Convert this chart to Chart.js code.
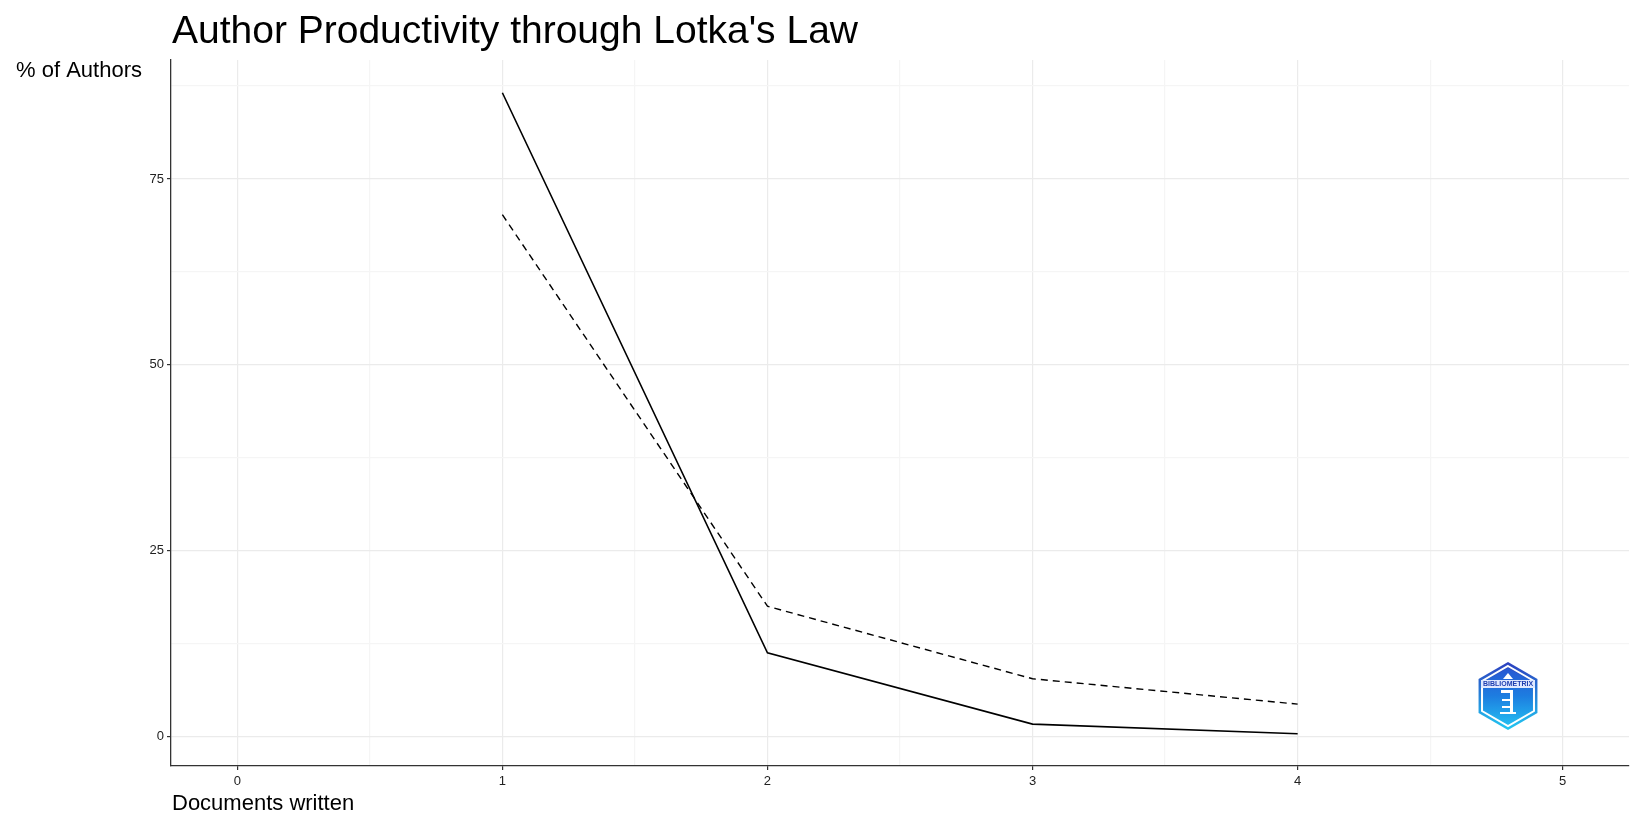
<!DOCTYPE html>
<html>
<head>
<meta charset="utf-8">
<script src="https://cdn.jsdelivr.net/npm/chart.js@4/dist/chart.umd.min.js"></script>
<style>
html,body{margin:0;padding:0;background:#fff;}
#wrap{position:relative;width:1648px;height:827px;}
</style>
</head>
<body>
<div id="wrap"><canvas id="c" width="1648" height="827"></canvas></div>
<script>
const chartTitle = "Author Productivity through Lotka's Law";
const yAxisTitle = "% of Authors";
const xAxisTitle = "Documents written";
const logoText = "BIBLIOMETRIX";

const documentsWritten = [1, 2, 3, 4];
const observedPct = [86.6, 11.3, 1.7, 0.4];
const lotkaPct = [70.2, 17.55, 7.8, 4.39];

const xTicks = [0, 1, 2, 3, 4, 5];
const xMinorTicks = [0.5, 1.5, 2.5, 3.5, 4.5];
const yTicks = [0, 25, 50, 75];
const yMinorTicks = [12.5, 37.5, 62.5, 87.5];
const xRange = [-0.25, 5.25];
const yRange = [-3.93, 91.0];

const FONT = '"Liberation Sans", Arial, Helvetica, sans-serif';

function setTicks(major, minor) {
  return function (scale) {
    const all = major.concat(minor).sort((a, b) => a - b);
    scale.ticks = all.map(v => ({ value: v }));
  };
}
function isMinor(list, ctx) {
  return ctx.tick && list.includes(ctx.tick.value);
}

const textPlugin = {
  id: 'texts',
  afterDraw(chart) {
    const ctx = chart.ctx;
    ctx.save();
    ctx.fillStyle = '#000';
    ctx.textBaseline = 'alphabetic';
    ctx.textAlign = 'left';
    ctx.font = '39px ' + FONT;
    ctx.fillText(chartTitle, 172, 43);
    ctx.font = '22px ' + FONT;
    ctx.fillText(yAxisTitle, 16, 77);
    ctx.fillText(xAxisTitle, 172, 810);

    // logo (hexagon badge)
    const cx = 1508, cy = 696, r = 34;
    const hex = (rad) => {
      ctx.beginPath();
      for (let i = 0; i < 6; i++) {
        const a = Math.PI / 180 * (60 * i - 90);
        const px = cx + rad * Math.cos(a), py = cy + rad * Math.sin(a);
        if (i === 0) ctx.moveTo(px, py); else ctx.lineTo(px, py);
      }
      ctx.closePath();
    };
    let g = ctx.createLinearGradient(0, cy - r, 0, cy + r);
    g.addColorStop(0, '#2c3fbf');
    g.addColorStop(1, '#21c8f2');
    hex(r); ctx.fillStyle = g; ctx.fill();
    hex(r - 4); ctx.strokeStyle = '#ffffff'; ctx.lineWidth = 2; ctx.stroke();
    g = ctx.createLinearGradient(0, cy - r, 0, cy + r);
    g.addColorStop(0, '#2a4fcf');
    g.addColorStop(0.5, '#1d7de0');
    g.addColorStop(1, '#25c6f4');
    hex(r - 6); ctx.fillStyle = g; ctx.fill();
    // banner
    ctx.fillStyle = '#dfe9ff';
    ctx.fillRect(cx - 27, cy - 16, 54, 8);
    ctx.fillStyle = '#1f3fb0';
    ctx.font = 'bold 7px ' + FONT;
    ctx.textAlign = 'center';
    ctx.textBaseline = 'middle';
    ctx.fillText(logoText, cx, cy - 12);
    // white figure
    ctx.fillStyle = '#ffffff';
    ctx.beginPath();
    ctx.moveTo(cx - 5, cy - 17); ctx.lineTo(cx, cy - 23); ctx.lineTo(cx + 5, cy - 17); ctx.closePath(); ctx.fill();
    ctx.fillRect(cx - 7, cy - 6, 12, 3);
    ctx.fillRect(cx + 2, cy - 4, 3, 20);
    ctx.fillRect(cx - 6, cy + 3, 9, 2);
    ctx.fillRect(cx - 6, cy + 10, 9, 2);
    ctx.fillRect(cx - 8, cy + 16, 16, 2);
    ctx.restore();
  }
};

new Chart(document.getElementById('c'), {
  type: 'line',
  data: {
    datasets: [
      {
        label: 'Observed',
        data: documentsWritten.map((x, i) => ({ x: x, y: observedPct[i] })),
        borderColor: '#000',
        borderWidth: 1.6,
        pointRadius: 0,
        tension: 0,
        fill: false
      },
      {
        label: 'Lotka theoretical',
        data: documentsWritten.map((x, i) => ({ x: x, y: lotkaPct[i] })),
        borderColor: '#000',
        borderWidth: 1.4,
        borderDash: [7, 5],
        pointRadius: 0,
        tension: 0,
        fill: false
      }
    ]
  },
  options: {
    responsive: false,
    animation: false,
    devicePixelRatio: 1,
    layout: { padding: { left: 0, top: 60, right: 19, bottom: 0 } },
    plugins: {
      legend: { display: false },
      tooltip: { enabled: false },
      title: { display: false }
    },
    scales: {
      x: {
        type: 'linear',
        min: xRange[0],
        max: xRange[1],
        afterBuildTicks: setTicks(xTicks, xMinorTicks),
        afterFit: (s) => { s.height = 61; },
        grid: {
          color: (ctx) => isMinor(xMinorTicks, ctx) ? '#f5f5f5' : '#ebebeb',
          tickColor: (ctx) => isMinor(xMinorTicks, ctx) ? 'rgba(0,0,0,0)' : '#333',
          lineWidth: 1.2,
          tickLength: 4,
          drawTicks: true
        },
        border: { display: true, color: '#333', width: 1.3 },
        ticks: {
          autoSkip: false,
          maxRotation: 0,
          padding: 4,
          color: '#222',
          font: { family: FONT, size: 13 },
          callback: (v) => xTicks.includes(v) ? String(v) : ''
        }
      },
      y: {
        type: 'linear',
        min: yRange[0],
        max: yRange[1],
        afterBuildTicks: setTicks(yTicks, yMinorTicks),
        afterFit: (s) => { s.width = 171; },
        grid: {
          color: (ctx) => isMinor(yMinorTicks, ctx) ? '#f5f5f5' : '#ebebeb',
          tickColor: (ctx) => isMinor(yMinorTicks, ctx) ? 'rgba(0,0,0,0)' : '#333',
          lineWidth: 1.2,
          tickLength: 4,
          drawTicks: true
        },
        border: { display: true, color: '#333', width: 1.3 },
        ticks: {
          autoSkip: false,
          padding: 3,
          color: '#222',
          font: { family: FONT, size: 13 },
          callback: (v) => yTicks.includes(v) ? String(v) : ''
        }
      }
    }
  },
  plugins: [textPlugin]
});
</script>
</body>
</html>
